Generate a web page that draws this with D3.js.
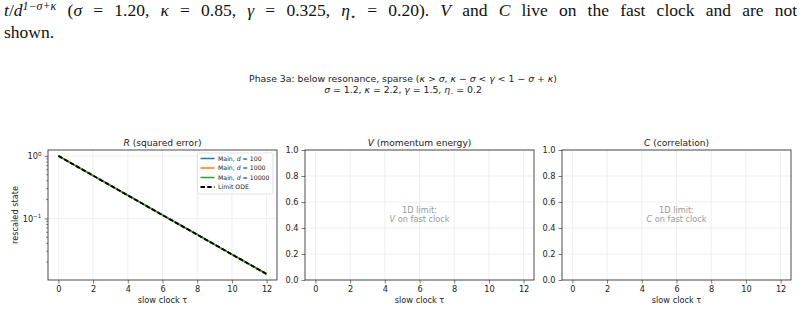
<!DOCTYPE html>
<html>
<head>
<meta charset="utf-8">
<script src="https://cdnjs.cloudflare.com/ajax/libs/d3/7.8.5/d3.min.js"></script>
<style>
  html, body { margin: 0; padding: 0; background: #fff; }
  svg { display: block; }
</style>
</head>
<body>
<div id="chart"></div>
<script>
// ---------------------------------------------------------------
// data
const tau = [0, 2, 4, 6, 8, 10, 12];
const R_d100   = [1.0, 0.484, 0.235, 0.114, 0.0553, 0.0267, 0.0130];
const R_d1000  = [1.0, 0.484, 0.234, 0.114, 0.0551, 0.0266, 0.0129];
const R_d10000 = [1.0, 0.484, 0.234, 0.113, 0.0550, 0.0266, 0.0129];
const R_limit  = [1.0, 0.484, 0.234, 0.113, 0.0550, 0.0266, 0.0129];

const seriesNames  = ["100", "1000", "10000"];
const seriesColors = ["#1f77b4", "#ff7f0e", "#2ca02c"];
const seriesValues = [R_d100, R_d1000, R_d10000];

const xTicks   = [0, 2, 4, 6, 8, 10, 12];
const linTicks = [0, 0.2, 0.4, 0.6, 0.8, 1.0];
const logTicks = [1, 0.1];

const panelTitles = [["R", " (squared error)"], ["V", " (momentum energy)"], ["C", " (correlation)"]];
const panelNotes  = [null, "V", "C"];

// ---------------------------------------------------------------
// layout
const W = 805, H = 326;
const panelLeft = [48, 305, 562];
const panelW = 229;
const top_ = 150, bottom_ = 280;
const fsTick = 8.2, fsTitle = 9.1;
const SANS = "DejaVu Sans";
const SERIF = "Liberation Serif";

const svg = d3.select("#chart").append("svg")
  .attr("width", W).attr("height", H);

//caption from the surrounding document (justified line)
const cap1 = svg.append("text").attr("x", 4).attr("y", 16)
  .attr("font-family", SERIF).attr("font-size", 17.5).attr("fill", "#111");
cap1.append("tspan").attr("font-style", "italic").text("t");
cap1.append("tspan").text("/");
cap1.append("tspan").attr("font-style", "italic").text("d");
cap1.append("tspan").attr("font-size", 12).attr("dy", -6.5).attr("font-style", "italic").text("1−σ+κ");
cap1.append("tspan").attr("dy", 6.5).text(" (");
cap1.append("tspan").attr("font-style", "italic").text("σ");
cap1.append("tspan").text(" = 1.20, ");
cap1.append("tspan").attr("font-style", "italic").text("κ");
cap1.append("tspan").text(" = 0.85, ");
cap1.append("tspan").attr("font-style", "italic").text("γ");
cap1.append("tspan").text(" = 0.325, ");
cap1.append("tspan").attr("font-style", "italic").text("η");
cap1.append("tspan").attr("font-size", 10).attr("dy", 4).text("⋆");
cap1.append("tspan").attr("dy", -4).text(" = 0.20). ");
cap1.append("tspan").attr("font-style", "italic").text("V");
cap1.append("tspan").text(" and ");
cap1.append("tspan").attr("font-style", "italic").text("C");
cap1.append("tspan").text(" live on the fast clock and are not");

const capW = cap1.node().getComputedTextLength();
const nSpaces = (cap1.text().match(/ /g) || []).length;
if (capW < 793) cap1.attr("word-spacing", (793 - capW) / nSpaces);
else cap1.attr("textLength", 793).attr("lengthAdjust", "spacingAndGlyphs");

svg.append("text").attr("x", 4).attr("y", 38)
  .attr("font-family", SERIF).attr("font-size", 17.5).attr("fill", "#111")
  .text("shown.");

//suptitle
const sup = svg.append("g")
  .attr("font-family", SANS).attr("font-size", 9.3).attr("fill", "#222")
  .attr("text-anchor", "middle");

const s1 = sup.append("text").attr("x", 403).attr("y", 82);
s1.append("tspan").text("Phase 3a: below resonance, sparse (");
s1.append("tspan").attr("font-style", "italic").text("κ");
s1.append("tspan").text(" > ");
s1.append("tspan").attr("font-style", "italic").text("σ");
s1.append("tspan").text(", ");
s1.append("tspan").attr("font-style", "italic").text("κ");
s1.append("tspan").text(" − ");
s1.append("tspan").attr("font-style", "italic").text("σ");
s1.append("tspan").text(" < ");
s1.append("tspan").attr("font-style", "italic").text("γ");
s1.append("tspan").text(" < 1 − ");
s1.append("tspan").attr("font-style", "italic").text("σ");
s1.append("tspan").text(" + ");
s1.append("tspan").attr("font-style", "italic").text("κ");
s1.append("tspan").text(")");

const s2 = sup.append("text").attr("x", 403).attr("y", 93);
s2.append("tspan").attr("font-style", "italic").text("σ");
s2.append("tspan").text(" = 1.2, ");
s2.append("tspan").attr("font-style", "italic").text("κ");
s2.append("tspan").text(" = 2.2, ");
s2.append("tspan").attr("font-style", "italic").text("γ");
s2.append("tspan").text(" = 1.5, ");
s2.append("tspan").attr("font-style", "italic").text("η");
s2.append("tspan").attr("font-size", 5).attr("dy", 2).text("⋆");
s2.append("tspan").attr("dy", -2).text(" = 0.2");

// ---------------------------------------------------------------
//scales
const xScale = d3.scaleLinear().domain([-0.6, 12.6]);
const yLog = d3.scaleLog().domain([Math.pow(10, -1.985), Math.pow(10, 0.095)]).range([bottom_, top_]);
const yLin = d3.scaleLinear().domain([0, 1]).range([bottom_, top_]);

const gridCol = "#ebebeb";

panelLeft.forEach((left, i) => {
  const x = xScale.copy().range([left, left + panelW]);
  const y = i === 0 ? yLog : yLin;
  const g = svg.append("g");

  //grid
  g.append("g").selectAll("line").data(xTicks).enter().append("line")
    .attr("x1", d => x(d)).attr("x2", d => x(d))
    .attr("y1", top_).attr("y2", bottom_)
    .attr("stroke", gridCol).attr("stroke-width", 0.8);
  g.append("g").selectAll("line").data(i === 0 ? logTicks : linTicks).enter().append("line")
    .attr("x1", left).attr("x2", left + panelW)
    .attr("y1", d => y(d)).attr("y2", d => y(d))
    .attr("stroke", gridCol).attr("stroke-width", 0.8);

  //axes
  const xAxis = d3.axisBottom(x).tickValues(xTicks).tickSize(3.5).tickPadding(3).tickFormat(d3.format("d"));
  const gx = g.append("g").attr("transform", `translate(0,${bottom_})`).call(xAxis)
    .attr("font-family", SANS).attr("font-size", fsTick);
  gx.select(".domain").remove();
  gx.selectAll("text").attr("fill", "#222");
  gx.selectAll("line").attr("stroke", "#222").attr("stroke-width", 0.6);

  if (i === 0) {
    const yAxis = d3.axisLeft(y).tickValues(logTicks).tickSize(3.5).tickPadding(3).tickFormat(() => "");
    const gy = g.append("g").attr("transform", `translate(${left},0)`).call(yAxis)
      .attr("font-family", SANS).attr("font-size", fsTick);
    gy.select(".domain").remove();
    gy.selectAll("line").attr("stroke", "#222").attr("stroke-width", 0.6);
    gy.selectAll(".tick text").each(function (d) {
      const t = d3.select(this).attr("fill", "#222");
      t.append("tspan").text("10");
      t.append("tspan").attr("font-size", 5.7).attr("dy", -3.5).text(d === 1 ? "0" : "−1");
    });
    //minor ticks
    const minors = [];
    [0.01, 0.1, 1].forEach(b => { for (let k = 2; k <= 9; k++) minors.push(b * k); });
    const yd = y.domain();
    g.append("g").selectAll("line")
      .data(minors.filter(m => m > yd[0] && m < yd[1])).enter().append("line")
      .attr("x1", left - 2).attr("x2", left)
      .attr("y1", d => y(d)).attr("y2", d => y(d))
      .attr("stroke", "#222").attr("stroke-width", 0.5);

    svg.append("text")
      .attr("transform", `translate(18,${(top_ + bottom_) / 2}) rotate(-90)`)
      .attr("text-anchor", "middle")
      .attr("font-family", SANS).attr("font-size", fsTick).attr("fill", "#222")
      .text("rescaled state");
  } else {
    const yAxis = d3.axisLeft(y).tickValues(linTicks).tickSize(3.5).tickPadding(3).tickFormat(d3.format(".1f"));
    const gy = g.append("g").attr("transform", `translate(${left},0)`).call(yAxis)
      .attr("font-family", SANS).attr("font-size", fsTick);
    gy.select(".domain").remove();
    gy.selectAll("text").attr("fill", "#222");
    gy.selectAll("line").attr("stroke", "#222").attr("stroke-width", 0.6);

    const note = g.append("text")
      .attr("text-anchor", "middle")
      .attr("font-family", SANS).attr("font-size", fsTick).attr("fill", "#999");
    note.append("tspan").attr("x", left + panelW / 2).attr("y", 213).text("1D limit:");
    const l2 = note.append("tspan").attr("x", left + panelW / 2).attr("dy", 9.3);
    l2.append("tspan").attr("font-style", "italic").text(panelNotes[i]);
    l2.append("tspan").text(" on fast clock");
  }

  //data lines
  if (i === 0) {
    const line = d3.line().x((d, k) => x(tau[k])).y(d => y(d));
    seriesValues.forEach((vals, s) => {
      g.append("path").datum(vals).attr("d", line)
        .attr("fill", "none").attr("stroke", seriesColors[s]).attr("stroke-width", 1.5);
    });
    g.append("path").datum(R_limit).attr("d", line)
      .attr("fill", "none").attr("stroke", "#000").attr("stroke-width", 1.9)
      .attr("stroke-dasharray", "4.5,2.2");

    //legend
    const lg = g.append("g").attr("transform", "translate(197.5,153)")
      .attr("font-family", SANS).attr("font-size", 6.2).attr("fill", "#222");
    lg.append("rect").attr("width", 75.5).attr("height", 41).attr("rx", 1.5)
      .attr("fill", "#fff").attr("fill-opacity", 0.8).attr("stroke", "#d6d6d6").attr("stroke-width", 0.7);
    seriesNames.forEach((nm, s) => {
      const yy = 5.5 + s * 9.5;
      lg.append("line").attr("x1", 3).attr("x2", 17).attr("y1", yy).attr("y2", yy)
        .attr("stroke", seriesColors[s]).attr("stroke-width", 1.5);
      const t = lg.append("text").attr("x", 20.5).attr("y", yy + 2.2);
      t.append("tspan").text("Main, ");
      t.append("tspan").attr("font-style", "italic").text("d");
      t.append("tspan").text(" = " + nm);
    });
    lg.append("line").attr("x1", 3).attr("x2", 17).attr("y1", 34).attr("y2", 34)
      .attr("stroke", "#000").attr("stroke-width", 1.9).attr("stroke-dasharray", "4.5,2.2");
    lg.append("text").attr("x", 20.5).attr("y", 36.2).text("Limit ODE");
  }

  //frame
  g.append("rect").attr("x", left).attr("y", top_).attr("width", panelW).attr("height", bottom_ - top_)
    .attr("fill", "none").attr("stroke", "#222").attr("stroke-width", 0.8);

  //title
  const tt = g.append("text").attr("x", left + panelW / 2).attr("y", top_ - 4.5)
    .attr("text-anchor", "middle")
    .attr("font-family", SANS).attr("font-size", fsTitle).attr("fill", "#222");
  tt.append("tspan").attr("font-style", "italic").text(panelTitles[i][0]);
  tt.append("tspan").text(panelTitles[i][1]);

  //x label
  g.append("text").attr("x", left + panelW / 2).attr("y", 303)
    .attr("text-anchor", "middle")
    .attr("font-family", SANS).attr("font-size", fsTick).attr("fill", "#222")
    .text("slow clock τ");
});
</script>
</body>
</html>
